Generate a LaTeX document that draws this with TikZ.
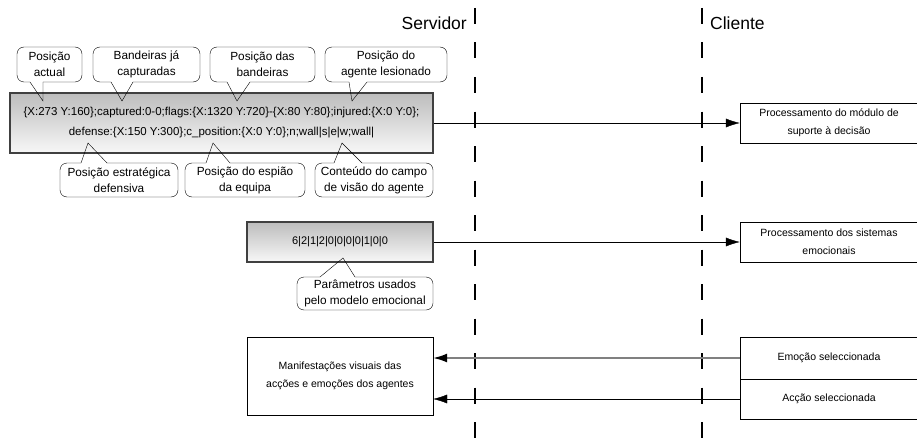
\documentclass[tikz,border=0pt]{standalone}
\usepackage{fontspec}
\setmainfont{Liberation Sans}
\usetikzlibrary{arrows.meta}
\tikzset{
  caixa/.style={draw, align=center, font=\fontsize{10.5}{18}\selectfont, inner sep=2pt},
  estado/.style={caixa, draw=black!75, line width=1.2pt, top color=black!26, bottom color=black!3, font=\fontsize{11.5}{20}\selectfont},
  balao/.style={draw, rounded corners=7pt, align=center, font=\fontsize{11.8}{16}\selectfont, inner sep=1pt},
  vida/.style={line width=1.6pt, dash pattern=on 16pt off 18.5pt},
  msg/.style={-{Latex[length=14pt,width=9pt,color=black]}}
}
\def\ponta(#1)(#2)(#3){\draw[white, line width=1.8pt] (#1) -- (#2); \draw (#1) -- (#3) -- (#2);}

\begin{document}
\begin{tikzpicture}[x=1pt,y=1pt]
			%%%%% START %%%%%
			\useasboundingbox (0,0) rectangle (917,440);
			
			% linhas de vida
			\coordinate (srv) at (475,432);
			\coordinate (cli) at (702,432);
			\draw[vida] (srv) -- ++(0,-432);
			\draw[vida] (cli) -- ++(0,-432);
			\node[inner sep=0, anchor=east, font=\fontsize{17.5}{20}\selectfont] (servidor) at (467,417) {Servidor};
			\node[inner sep=0, anchor=west, font=\fontsize{17.5}{20}\selectfont] (cliente) at (710,417) {Cliente};
			
			% mensagem de estado
			\node[estado, minimum width=423, minimum height=60] (estado) at (221.5,317) {\{X:273 Y:160\};captured:0-0;flags:\{X:1320 Y:720\}-\{X:80 Y:80\};injured:\{X:0 Y:0\};\\defense:\{X:150 Y:300\};c\_position:\{X:0 Y:0\};n;wall|s|e|w;wall|};
			
			\node[balao, minimum width=65, minimum height=35] (actual) at (49.5,375.5) {Posição\\actual};
			\ponta(30,358)(43,358)(43,339)
			\node[balao, minimum width=107, minimum height=35] (capturadas) at (146.5,375.5) {Bandeiras já\\capturadas};
			\ponta(111,358)(133,358)(122,339)
			\node[balao, minimum width=105, minimum height=35] (bandeiras) at (262.5,375.5) {Posição das\\bandeiras};
			\ponta(227,358)(250,358)(237,339)
			\node[balao, minimum width=122, minimum height=35] (lesionado) at (386,375.5) {Posição do\\agente lesionado};
			\ponta(349,358)(367,358)(352,339)
			
			\node[balao, minimum width=118, minimum height=34] (defensiva) at (119,260) {Posição estratégica\\defensiva};
			\ponta(81,277)(107,277)(88,297)
			\node[balao, minimum width=120, minimum height=34] (espiao) at (245,260) {Posição do espião\\da equipa};
			\ponta(206,277)(230,277)(213,297)
			\node[balao, minimum width=118, minimum height=34] (campo) at (374,260) {Conteúdo do campo\\de visão do agente};
			\ponta(334,277)(362,277)(342,297)
			
			% parametros emocionais
			\node[estado, font=\fontsize{11}{18}\selectfont, minimum width=186, minimum height=40] (parametros) at (340,198) {6|2|1|2|0|0|0|0|1|0|0};
			\node[balao, minimum width=136, minimum height=33] (modelo) at (365,146.5) {Parâmetros usados\\pelo modelo emocional};
			\ponta(320,163)(355,163)(343,182)
			
			% lado do cliente
			\node[caixa, minimum width=178, minimum height=40] (decisao) at (829,317) {Processamento do módulo de\\suporte à decisão};
			\node[caixa, minimum width=178, minimum height=40] (sistemas) at (829,198) {Processamento dos sistemas\\emocionais};
			\node[caixa, minimum width=178, minimum height=42] (emocao) at (829,82) {Emoção seleccionada};
			\node[caixa, minimum width=178, minimum height=40] (accao) at (829,41) {Acção seleccionada};
			\node[caixa, minimum width=186, minimum height=78] (manif) at (340,64) {Manifestações visuais das\\acções e emoções dos agentes};
			
			\draw[msg] (estado.east) -- (decisao.west);
			\draw[msg] (parametros.east) -- (sistemas.west);
			\draw[msg, draw=black!50, line width=1.6pt] (emocao.west) -- (emocao.west -| manif.east);
			\draw[msg] (accao.west) -- (accao.west -| manif.east);
			
			%%%%% END %%%%%
\end{tikzpicture}
\end{document}
